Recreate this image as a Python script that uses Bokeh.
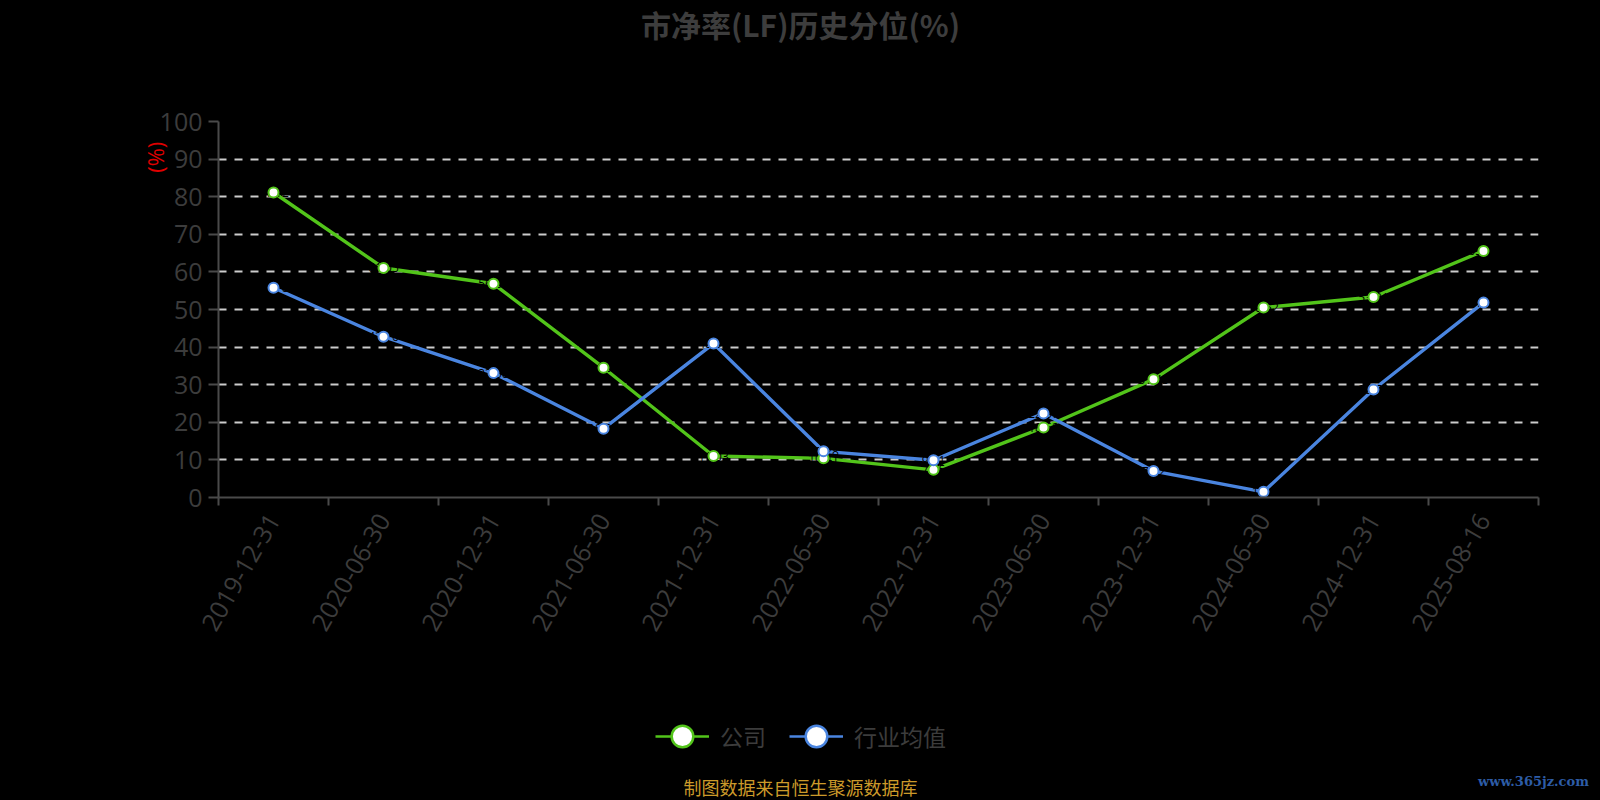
import math
from bokeh.plotting import figure
from bokeh.layouts import column
from bokeh.models import (Range1d, FixedTicker, Label, Legend, LegendItem, ColumnDataSource,
                          LinearAxis, InlineStyleSheet)
from bokeh.core.properties import value
from bokeh.embed import file_html
from bokeh.resources import INLINE

# ---------------- data ----------------
categories = ["2019-12-31", "2020-06-30", "2020-12-31", "2021-06-30", "2021-12-31", "2022-06-30",
              "2022-12-31", "2023-06-30", "2023-12-31", "2024-06-30", "2024-12-31", "2025-08-16"]
company = [81.12, 61.05, 56.84, 34.52, 11.03, 10.41, 7.35, 18.62, 31.43, 50.52, 53.31, 65.58]
industry = [55.78, 42.76, 33.08, 18.31, 40.93, 12.28, 9.91, 22.37, 7.02, 1.51, 28.72, 51.83]
y_ticks = [0, 10, 20, 30, 40, 50, 60, 70, 80, 90, 100]
series_names = ["公司", "行业均值"]
title_text = "市净率(LF)历史分位(%)"
y_unit = "(%)"
footer_text = "制图数据来自恒生聚源数据库"
watermark_text = "www.365jz.com"

GREEN = "#52c41a"
BLUE = "#4a85e0"
AXIS = "#4a4a4a"
TXT = "#3c3c3c"
NUM_FONT = "Open Sans"
CJK_FONT = "Noto Sans CJK SC"

W = 1600
H_TOP, H_MAIN, H_BOT = 68, 600, 132
BLACK_CSS = ":host { background-color: #000000; border: none; outline: none; }"


def style(f):
    f.stylesheets = [InlineStyleSheet(css=BLACK_CSS)]
    f.styles = {"background-color": "#000000"}
    f.frame_align = False
    f.background_fill_color = "#000000"
    f.border_fill_color = "#000000"
    f.outline_line_color = "#000000"


def blank_fig(h):
    f = figure(width=W, height=h, output_backend="svg", toolbar_location=None, title=None,
               x_range=Range1d(0, W), y_range=Range1d(h, 0),
               x_axis_location=None, y_axis_location=None, min_border=0)
    style(f)
    f.grid.visible = False
    return f


# ---------------- title ----------------
top = blank_fig(H_TOP)
top.add_layout(Label(x=800, y=23, text=title_text, text_align="center", text_baseline="middle",
                     text_font=CJK_FONT, text_font_size="30px", text_font_style="bold",
                     text_color="#3d3d3d"))

# ---------------- main chart ----------------
n = len(categories)
xs = [i + 0.5 for i in range(n)]

p = figure(width=W, height=H_MAIN, output_backend="svg", toolbar_location=None,
           title=None, x_range=Range1d(0, n), y_range=Range1d(0, 100),
           min_border_left=218, min_border_right=W - 218 - 1320, min_border_top=53,
           min_border_bottom=H_MAIN - 53 - 376)
style(p)

xa = p.xaxis[0]
xa.ticker = FixedTicker(ticks=xs, minor_ticks=list(range(n + 1)))
xa.major_label_overrides = {x: c for x, c in zip(xs, categories)}
xa.major_tick_out = 0
xa.major_tick_in = 0
xa.minor_tick_out = 8
xa.minor_tick_in = 0
xa.minor_tick_line_color = AXIS
xa.minor_tick_line_width = 2
xa.axis_line_color = AXIS
xa.axis_line_width = 2
xa.major_label_orientation = math.radians(60)
xa.major_label_text_font = NUM_FONT
xa.major_label_text_font_size = "25px"
xa.major_label_text_color = TXT
xa.major_label_standoff = 10

ya = p.yaxis[0]
ya.ticker = FixedTicker(ticks=y_ticks)
ya.major_tick_out = 10
ya.major_tick_in = 0
ya.minor_tick_out = 0
ya.minor_tick_in = 0
ya.major_tick_line_color = AXIS
ya.major_tick_line_width = 2
ya.axis_line_color = AXIS
ya.axis_line_width = 2
ya.major_label_text_font = NUM_FONT
ya.major_label_text_font_size = "25px"
ya.major_label_text_color = TXT
ya.major_label_standoff = 6

# unit "(%)" drawn as a second left axis label near the top
unit_axis = LinearAxis(ticker=FixedTicker(ticks=[90.5]), major_label_overrides={90.5: y_unit},
                       major_label_orientation="vertical", axis_line_color=None,
                       major_tick_line_color=None, minor_tick_line_color=None,
                       major_label_standoff=-20, major_label_text_color="#e00000",
                       major_label_text_font=NUM_FONT, major_label_text_font_size="22px")
p.add_layout(unit_axis, "left")

p.xgrid.grid_line_color = None
p.ygrid.ticker = FixedTicker(ticks=y_ticks[1:])
p.ygrid.grid_line_color = "#cccccc"
p.ygrid.grid_line_width = 2
p.ygrid.grid_line_dash = "8 8"

src_c = ColumnDataSource(dict(x=xs, y=company, t=[f"{v:.2f}" for v in company]))
src_i = ColumnDataSource(dict(x=xs, y=industry, t=[f"{v:.2f}" for v in industry]))

p.line("x", "y", source=src_c, line_color=GREEN, line_width=3.4)
p.line("x", "y", source=src_i, line_color=BLUE, line_width=3.4)

# data labels (black on black, as in the original)
for s in (src_c, src_i):
    p.text("x", "y", text="t", source=s, text_color="#000000", text_font=value(NUM_FONT),
           text_font_size="12px", text_align="center", text_baseline="middle")

p.scatter("x", "y", source=src_c, size=10, marker="circle", fill_color="#ffffff",
          line_color=GREEN, line_width=2)
p.scatter("x", "y", source=src_i, size=10, marker="circle", fill_color="#ffffff",
          line_color=BLUE, line_width=2)

# ---------------- legend + footer ----------------
bot = blank_fig(H_BOT)
nan = float("nan")
lc = bot.line(x=[nan], y=[nan], line_color=GREEN, line_width=2.5)
sc = bot.scatter(x=[nan], y=[nan], marker="circle", fill_color="#ffffff", line_color=GREEN, line_width=2.5)
li = bot.line(x=[nan], y=[nan], line_color=BLUE, line_width=2.5)
si = bot.scatter(x=[nan], y=[nan], marker="circle", fill_color="#ffffff", line_color=BLUE, line_width=2.5)
legend = Legend(items=[LegendItem(label=series_names[0], renderers=[lc, sc]),
                       LegendItem(label=series_names[1], renderers=[li, si])],
                location=(655, 36), orientation="horizontal",
                glyph_width=54, glyph_height=56, label_standoff=11, spacing=23,
                padding=0, margin=0, border_line_color=None, background_fill_alpha=0,
                label_text_font=CJK_FONT, label_text_font_size="23px", label_text_color=TXT)
bot.add_layout(legend, "center")

bot.add_layout(Label(x=800, y=118, text=footer_text, text_align="center", text_baseline="middle",
                     text_font=CJK_FONT, text_font_size="18px", text_color="#cc9a2a"))
bot.add_layout(Label(x=1533, y=113, text=watermark_text, text_align="center", text_baseline="middle",
                     text_font="DejaVu Serif", text_font_size="13px", text_font_style="bold",
                     text_color="#2d5ca6"))

layout = column(top, p, bot, spacing=0)
layout.stylesheets = [InlineStyleSheet(css=BLACK_CSS)]
layout.styles = {"background-color": "#000000"}
html = file_html(layout, INLINE)
html = html.replace("<body>", '<body style="background-color:#000000;">', 1)
open("out.html", "w").write(html)
